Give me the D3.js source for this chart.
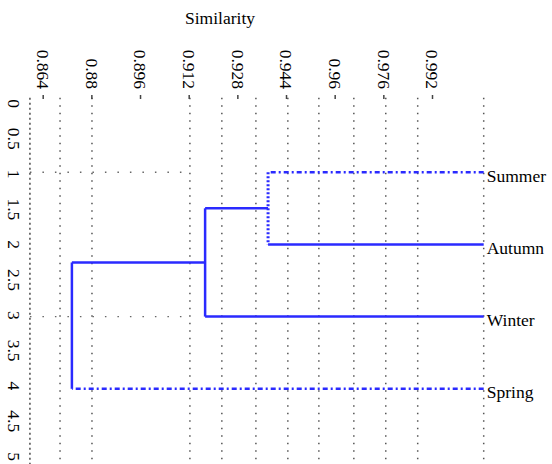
<!DOCTYPE html>
<html>
<head>
<meta charset="utf-8">
<script src="https://cdn.jsdelivr.net/npm/d3@7/dist/d3.min.js"></script>
<style>
  html, body { margin: 0; padding: 0; background: #fff; }
  svg { display: block; }
  text { font-family: "Liberation Serif", "Times New Roman", serif; fill: #000; }
</style>
</head>
<body>
<svg id="chart" width="552" height="464"></svg>
<script>
// ---- data ----
const leaves = ["Summer", "Autumn", "Winter", "Spring"];
const leafPositions = [1, 2, 3, 4];
const leafSimilarity = 1.009;
// merges: [childA, childB, similarity]; clusters referred to as "c0", "c1", ...
const mergeA = ["Summer", "c0", "c1"];
const mergeB = ["Autumn", "Winter", "Spring"];
const mergeSimilarity = [0.9381, 0.9174, 0.8736];
const xTickValues = [0.864, 0.88, 0.896, 0.912, 0.928, 0.944, 0.96, 0.976, 0.992];
const xTickLabels = ["0.864", "0.88", "0.896", "0.912", "0.928", "0.944", "0.96", "0.976", "0.992"];
const yTickValues = [0, 0.5, 1, 1.5, 2, 2.5, 3, 3.5, 4, 4.5, 5];
const yTickLabels = ["0", "0.5", "1", "1.5", "2", "2.5", "3", "3.5", "4", "4.5", "5"];
const gridSimilarity = [0.8697, 0.8802, 0.9124, 0.9229, 0.9341, 0.9446, 0.9548, 0.9663, 0.9768, 0.9873, 1.009];
const axisSimilarity = 0.8598;
const gridRows = [1, 3];
const titleText = "Similarity";

// ---- styles (not data) ----
const BLUE = "#2a2aff";
const leafDash = { Summer: "5,3,2,3", Spring: "5,3,2,3" };
const mergeVerticalDash = ["2,2", null, null];
const FONT = "'Liberation Serif', serif";

const svg = d3.select("#chart");
const x = d3.scaleLinear().domain([0.864, 0.992]).range([42.7, 432]);
const y = d3.scaleLinear().domain([0, 5]).range([100, 461]);
const yLab = d3.scaleLinear().domain([0, 5]).range([103, 456]);

// title
svg.append("text").attr("x", 220).attr("y", 24).attr("text-anchor", "middle")
  .style("font-size", "17.5px").style("font-family", FONT).text(titleText);

// grid
const grid = svg.append("g");
grid.selectAll("line.v").data(gridSimilarity).join("line")
  .attr("x1", d => x(d)).attr("x2", d => x(d))
  .attr("y1", y(-0.03)).attr("y2", y(5.05))
  .attr("stroke", "#555").attr("stroke-width", 1.5)
  .attr("stroke-dasharray", "1.5,6");
grid.selectAll("line.h").data(gridRows).join("line")
  .attr("x1", x(axisSimilarity)).attr("x2", x(0.9124))
  .attr("y1", d => y(d)).attr("y2", d => y(d))
  .attr("stroke", "#666").attr("stroke-width", 1.4)
  .attr("stroke-dasharray", "1.5,11");

// left axis (dotted line)
const yAxis = d3.axisLeft(yLab).tickValues(yTickValues)
  .tickFormat((d, i) => yTickLabels[i]).tickSize(0);
const gy = svg.append("g").attr("transform", `translate(${x(axisSimilarity)},0)`).call(yAxis);
gy.select(".domain").attr("d", `M0,${y(-0.03)}V${y(5.05)}`)
  .attr("stroke", "#555").attr("stroke-width", 1.6).attr("stroke-dasharray", "2,3");
gy.selectAll("text")
  .attr("x", 0).attr("y", 0).attr("dy", "0.35em")
  .attr("text-anchor", "middle")
  .attr("transform", "translate(-16,0) rotate(90)")
  .style("font-size", "17.5px").style("font-family", FONT).attr("fill", "#000");

// top axis
const xAxis = d3.axisTop(x).tickValues(xTickValues)
  .tickFormat((d, i) => xTickLabels[i]).tickSize(4);
const gx = svg.append("g").attr("transform", `translate(0,${y(0) - 1})`).call(xAxis);
gx.select(".domain").remove();
gx.selectAll(".tick line").attr("stroke", "#444").attr("stroke-width", 1.5);
gx.selectAll("text")
  .attr("x", 0).attr("y", 0).attr("dy", "0.35em")
  .attr("text-anchor", "end")
  .attr("transform", "translate(0,-10) rotate(90)")
  .style("font-size", "17.5px").style("font-family", FONT).attr("fill", "#000");

// dendrogram
const nodes = {};
leaves.forEach((name, i) => { nodes[name] = { pos: leafPositions[i], sim: leafSimilarity, leaf: true }; });
const links = svg.append("g").attr("fill", "none").attr("stroke", BLUE).attr("stroke-width", 2.5);
mergeA.forEach((a, i) => {
  const b = mergeB[i];
  const na = nodes[a], nb = nodes[b];
  const s = mergeSimilarity[i];
  const pos = (na.pos + nb.pos) / 2;
  [[a, na], [b, nb]].forEach(([name, n]) => {
    links.append("line")
      .attr("x1", x(n.sim)).attr("x2", x(s))
      .attr("y1", y(n.pos)).attr("y2", y(n.pos))
      .attr("stroke-dasharray", n.leaf && leafDash[name] ? leafDash[name] : null);
  });
  links.append("line")
    .attr("x1", x(s)).attr("x2", x(s))
    .attr("y1", y(na.pos)).attr("y2", y(nb.pos))
    .attr("stroke-width", mergeVerticalDash[i] ? 3 : 2.5)
    .attr("stroke-dasharray", mergeVerticalDash[i]);
  nodes["c" + i] = { pos: pos, sim: s, leaf: false };
});

// leaf labels
svg.append("g").selectAll("text").data(leaves).join("text")
  .attr("x", x(leafSimilarity) + 3)
  .attr("y", (d, i) => y(leafPositions[i]) + 9.5)
  .style("font-size", "17.5px").style("font-family", FONT)
  .text(d => d);
</script>
</body>
</html>
